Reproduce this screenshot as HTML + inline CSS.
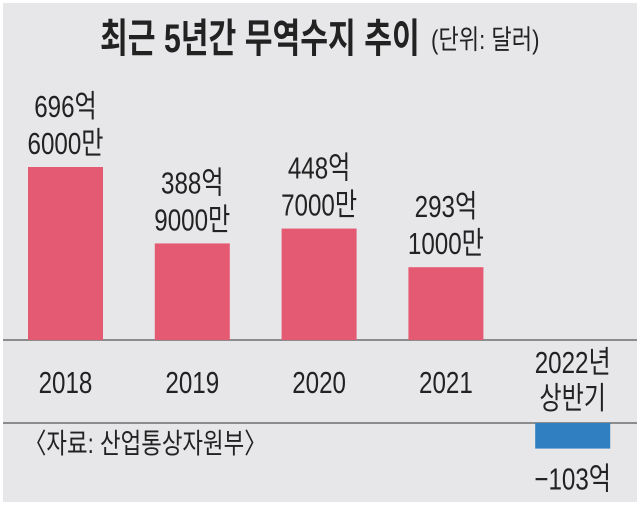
<!DOCTYPE html>
<html><head><meta charset="utf-8"><style>
html,body{margin:0;padding:0;background:#fff;}
svg{display:block;}
text{font-family:"Liberation Sans","Noto Sans CJK KR",sans-serif;fill:#222;}
</style></head><body>
<svg id="chart" width="640" height="505">
<rect x="3" y="3" width="634" height="499" fill="#e7e7e9"/>
<g transform="translate(100,52) scale(0.755,1)"><text x="0" y="0" font-size="40" font-weight="bold">최근 5년간 무역수지 추이</text></g>
<g transform="translate(431,49) scale(0.82,1)"><text x="0" y="0" font-size="27">(단위: 달러)</text></g>
<line x1="3" y1="340" x2="637" y2="340" stroke="#555" stroke-width="1.2"/>
<line x1="3" y1="423" x2="637" y2="423" stroke="#555" stroke-width="1.2"/>
<g transform="translate(24,453) scale(0.8,1)"><text x="0" y="0" font-size="28">〈자료: 산업통상자원부〉</text></g>
<g id="marks"></g>
</svg>
<script>
const categories = ["2018","2019","2020","2021","2022년|상반기"];
const values = [696.6, 388.9, 448.7, 293.1, -103];
const valueLabels = ["696억|6000만","388억|9000만","448억|7000만","293억|1000만","−103억"];
const svgNS = "http://www.w3.org/2000/svg";
const g = document.getElementById("marks");
const scale = 173/696.6;
const zeroPos = 340, zeroNeg = 423;
const xLeft = i => 28 + i*126.8;
const barW = 75;
function txt(x,y,s,size,name){
  const grp=document.createElementNS(svgNS,"g");
  grp.setAttribute("transform","translate("+x+","+y+") scale(0.78,1)");
  const t=document.createElementNS(svgNS,"text");
  t.setAttribute("x",0);t.setAttribute("y",0);
  t.setAttribute("font-size",size);t.setAttribute("text-anchor","middle");
  t.textContent=s;
  
  
  grp.appendChild(t);g.appendChild(grp);
}
values.forEach((v,i)=>{
  const r=document.createElementNS(svgNS,"rect");
  const x=xLeft(i), h=Math.abs(v)*scale;
  const cx=x+barW/2;
  r.setAttribute("x",x);r.setAttribute("width",barW);
  if(v>=0){r.setAttribute("y",zeroPos-h);r.setAttribute("fill","#e55a73");}
  else{r.setAttribute("y",zeroNeg);r.setAttribute("fill","#2f7fc1");}
  r.setAttribute("height",h);
  
  
  g.appendChild(r);
  const lines=valueLabels[i].split("|");
  if(v>=0){
    const top=zeroPos-h;
    txt(cx,top-50,lines[0],31,'value-label');
    txt(cx,top-13,lines[1],31,'value-label');
  } else {
    txt(cx,zeroNeg+h+41,lines[0],31,'value-label');
  }
  const cl=categories[i].split("|");
  if(cl.length===1) txt(cx,393,cl[0],31,'x-axis-label');
  else {txt(cx,373,cl[0],31,'x-axis-label');txt(cx,409,cl[1],31,'x-axis-label');}
});
</script>
</body></html>
